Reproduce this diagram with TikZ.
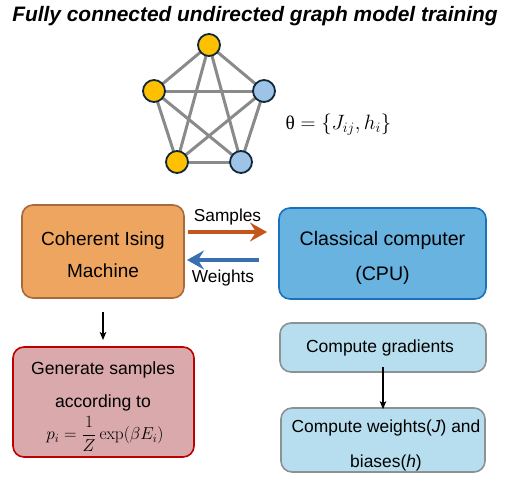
\documentclass[tikz,border=0pt]{standalone}
\usepackage{amsmath}
\usepackage[no-math]{fontspec}
\setmainfont{Liberation Sans}
\newfontfamily\serifgk{Liberation Serif}
\usetikzlibrary{arrows.meta}
\definecolor{cyel}{HTML}{FFC000}
\definecolor{cblu}{HTML}{9DC3E6}
\definecolor{cnode}{HTML}{10283A}
\definecolor{cedge}{HTML}{8A8A8A}
\definecolor{orfill}{HTML}{EDA55F}
\definecolor{ordraw}{HTML}{A86A3C}
\definecolor{cpufill}{HTML}{68B3E0}
\definecolor{cpudraw}{HTML}{1A72BE}
\definecolor{redfill}{HTML}{D9A9AC}
\definecolor{reddraw}{HTML}{C00000}
\definecolor{lbfill}{HTML}{B7DEEE}
\definecolor{lbdraw}{HTML}{8C9194}
\definecolor{sampc}{HTML}{C5541D}
\definecolor{weic}{HTML}{3A6FB0}
\tikzset{
  vert/.style={circle,draw=cnode,line width=1.8pt,minimum size=22pt,inner sep=0pt},
  edge/.style={draw=cedge,line width=3pt},
  box/.style={rounded corners=11pt,line width=1.6pt,align=center,inner sep=0pt},
  bigarrow/.style={line width=3.5pt,-{Stealth[length=17pt,width=19pt,inset=6pt]}},
  downarrow/.style={line width=1.5pt,-{Stealth[length=8pt,width=6.5pt,inset=2pt]}},
  lbl/.style={font=\fontsize{17.3}{18}\selectfont}
}
\begin{document}
\begin{tikzpicture}[x=1pt,y=-1pt]
\useasboundingbox (0,0) rectangle (516,491);
\node (title) at (255,16) {\fontsize{20.9}{22}\selectfont\bfseries\itshape Fully connected undirected graph model training};
% graph
\coordinate (pt) at (209,45);
\coordinate (pl) at (154,91);
\coordinate (pr) at (264,91);
\coordinate (pbl) at (177,162);
\coordinate (pbr) at (241,162);
\foreach \a/\b in {pt/pl,pt/pr,pt/pbl,pt/pbr,pl/pr,pl/pbl,pl/pbr,pr/pbl,pr/pbr,pbl/pbr}
  \draw[edge] (\a) -- (\b);
\node[vert,fill=cyel] (nt) at (pt) {};
\node[vert,fill=cyel] (nl) at (pl) {};
\node[vert,fill=cblu] (nr) at (pr) {};
\node[vert,fill=cyel] (nbl) at (pbl) {};
\node[vert,fill=cblu] (nbr) at (pbr) {};
\node[anchor=west,font=\fontsize{19.4}{22}\selectfont] (theta) at (282,125) {{\serifgk θ}$\;=\{J_{ij},h_i\}$};
% boxes
\node[box,fill=orfill,draw=ordraw,minimum width=162pt,minimum height=93pt] (cim) at (103,251.5) {};
\node[font=\fontsize{19}{32}\selectfont,align=center] (cimt) at (103,255) {Coherent Ising\\Machine};
\node[box,fill=cpufill,draw=cpudraw,minimum width=207pt,minimum height=91pt] (cpu) at (382.5,253.5) {};
\node[font=\fontsize{19.6}{35}\selectfont,align=center] (cput) at (382.5,257.5) {Classical computer\\(CPU)};
\coordinate (s1) at (188,232);
\coordinate (s2) at (267,232);
\draw[bigarrow,draw=sampc,fill=sampc] (s1) -- (s2) node[midway,above=2pt,lbl,text=black] (samp) {Samples};
\coordinate (w1) at (259,260);
\coordinate (w2) at (187,260);
\draw[bigarrow,draw=weic,fill=weic] (w1) -- (w2) node[midway,below=5pt,lbl,text=black] (wei) {Weights};
\node[box,fill=redfill,draw=reddraw,minimum width=181pt,minimum height=110pt] (gen) at (103.5,402) {};
\node[font=\fontsize{17.6}{33}\selectfont,align=center] (gtxt) at (103,386) {Generate samples\\according to};
\node[font=\fontsize{17.6}{20}\selectfont] (form) at (105,434) {$p_i=\dfrac{1}{Z}\exp(\beta E_i)$};
\coordinate (d1) at (103,312);
\coordinate (d2) at (103,340);
\draw[downarrow] (d1) -- (d2);
\node[box,fill=lbfill,draw=lbdraw,minimum width=206pt,minimum height=49pt] (grad) at (383,347.5) {};
\node[font=\fontsize{17.5}{20}\selectfont] (gradt) at (380,348) {Compute gradients};
\node[box,fill=lbfill,draw=lbdraw,minimum width=204pt,minimum height=64pt] (wts) at (383,440) {};
\node[font=\fontsize{17.4}{35}\selectfont,align=center] (wtst) at (386,445) {Compute weights(\textit{J}) and\\biases(\textit{h})};
\draw[downarrow] ([yshift=6pt]grad.south) -- ([yshift=-2pt]wts.north);
\end{tikzpicture}
\end{document}
